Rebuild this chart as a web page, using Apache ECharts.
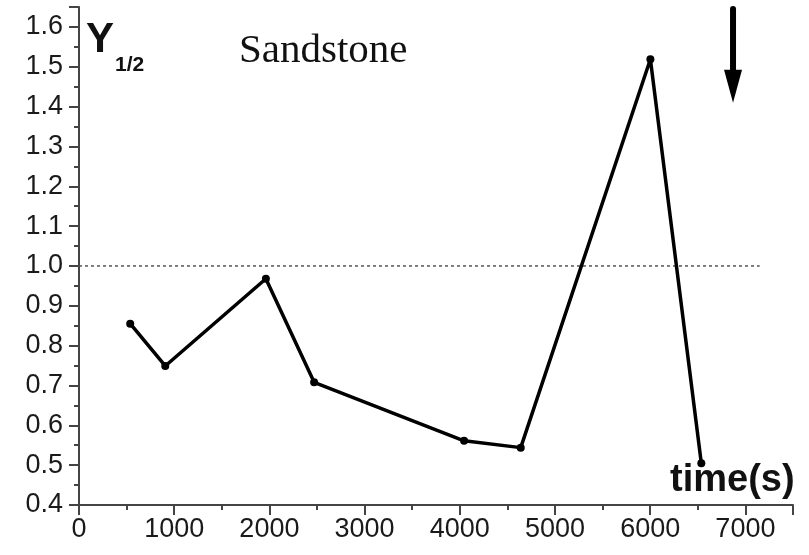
<!DOCTYPE html>
<html>
<head>
<meta charset="utf-8">
<script src="https://cdn.jsdelivr.net/npm/echarts@6/dist/echarts.min.js"></script>
<style>
html,body{margin:0;padding:0;background:#fff;}
#chart{width:809px;height:555px;}
</style>
</head>
<body>
<div id="chart"></div>
<script>
// Data
var timeS = [538, 906, 1963, 2470, 4045, 4640, 6002, 6537];
var yHalf = [0.855, 0.749, 0.968, 0.708, 0.561, 0.544, 1.519, 0.505];
var refLineX = [0, 7150];
var refLineY = [1.0, 1.0];
var arrowShaftX = [6870, 6870];
var arrowShaftY = [1.645, 1.47];
var arrowHeadX = [6870];
var arrowHeadY = [1.451];
var xTickLabels = ['0', '1000', '2000', '3000', '4000', '5000', '6000', '7000'];

var chart = echarts.init(document.getElementById('chart'), null, {renderer: 'canvas'});

var mainData = timeS.map(function (t, i) { return [t, yHalf[i]]; });
var refData = refLineX.map(function (t, i) { return [t, refLineY[i]]; });
var shaftData = arrowShaftX.map(function (t, i) { return [t, arrowShaftY[i]]; });
var headData = arrowHeadX.map(function (t, i) { return [t, arrowHeadY[i]]; });

var axisColor = '#444';
var labelFont = {color: '#1a1a1a', fontSize: 27, fontFamily: 'Liberation Sans, Arial, sans-serif'};

var option = {
  backgroundColor: '#fff',
  animation: false,
  grid: {left: 79, right: 16, top: 7, bottom: 50, containLabel: false},
  xAxis: {
    type: 'value', min: 0, max: 7500, interval: 1000,
    axisLine: {show: true, onZero: false, lineStyle: {color: axisColor, width: 2}},
    axisTick: {show: true, inside: false, length: 10, lineStyle: {color: axisColor, width: 2}},
    minorTick: {show: true, splitNumber: 2, length: 5, lineStyle: {color: axisColor, width: 2}},
    splitLine: {show: false},
    axisLabel: Object.assign({margin: 11, showMaxLabel: false,
      formatter: function (v) { var i = Math.round(v / 1000); return (v % 1000 === 0 && xTickLabels[i] !== undefined) ? xTickLabels[i] : ''; }}, labelFont)
  },
  yAxis: {
    type: 'value', min: 0.4, max: 1.65, interval: 0.1,
    axisLine: {show: true, onZero: false, lineStyle: {color: axisColor, width: 2}},
    axisTick: {show: true, inside: false, length: 10, lineStyle: {color: axisColor, width: 2}},
    minorTick: {show: true, splitNumber: 2, length: 5, lineStyle: {color: axisColor, width: 2}},
    splitLine: {show: false},
    axisLabel: Object.assign({margin: 16, showMaxLabel: false,
      formatter: function (v) { return v.toFixed(1); }}, labelFont)
  },
  series: [
    {
      type: 'line', data: refData, symbol: 'none', silent: true,
      lineStyle: {color: '#555', width: 1.5, type: [3, 3]}, z: 1
    },
    {
      type: 'line', data: mainData, symbol: 'circle', symbolSize: 8,
      itemStyle: {color: '#000'},
      lineStyle: {color: '#000', width: 3.5}, z: 3
    },
    {
      type: 'line', data: shaftData, symbol: 'none', silent: true,
      lineStyle: {color: '#000', width: 6, cap: 'round'}, z: 4
    },
    {
      type: 'scatter', data: headData, symbol: 'triangle', symbolRotate: 180,
      symbolSize: [18, 33], silent: true,
      itemStyle: {color: '#000', opacity: 1}, z: 4
    }
  ],
  graphic: [
    {type: 'text', left: 239, top: 31, style: {text: 'Sandstone', fill: '#111', font: '41px "Liberation Serif", "Times New Roman", serif'}},
    {type: 'text', left: 86, top: 19, style: {text: 'Y', fill: '#111', font: 'bold 42px "Liberation Sans", Arial, sans-serif'}},
    {type: 'text', left: 115, top: 55, style: {text: '1/2', fill: '#111', font: 'bold 21px "Liberation Sans", Arial, sans-serif'}},
    {type: 'text', left: 670, top: 462, style: {text: 'time(s)', fill: '#111', font: 'bold 38px "Liberation Sans", Arial, sans-serif'}}
  ]
};
chart.setOption(option);
</script>
</body>
</html>
